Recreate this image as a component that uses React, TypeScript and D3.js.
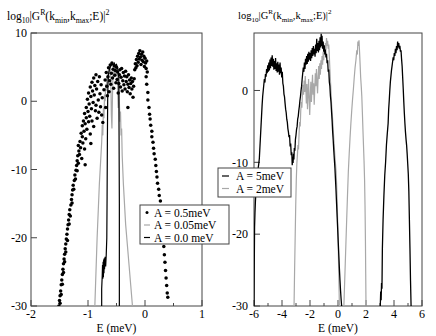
import React from "react";
import * as d3 from "d3";

// ---------- Left panel data ----------
const leftXTicks = [-2, -1, 0, 1];
const leftXMinor = [-1.5, -0.5, 0.5];
const leftYTicks = [10, 0, -10, -20, -30];

// A = 0.5 meV (dots)
const dotsA05: [number, number][] = [
  [-1.51, -30.0], [-1.50, -29.2], [-1.49, -29.6], [-1.49, -28.5], [-1.48, -27.8], [-1.47, -28.3], [-1.47, -26.9],
  [-1.46, -26.2], [-1.45, -26.8], [-1.45, -25.4], [-1.44, -24.6], [-1.43, -25.1], [-1.43, -23.8], [-1.42, -23.1],
  [-1.41, -22.4], [-1.41, -23.5], [-1.40, -21.6], [-1.39, -22.1], [-1.39, -20.9], [-1.38, -20.2], [-1.37, -19.5],
  [-1.36, -20.4], [-1.36, -18.7], [-1.35, -18.1], [-1.34, -17.4], [-1.33, -18.0], [-1.33, -16.6], [-1.32, -15.9],
  [-1.31, -16.8], [-1.30, -15.2], [-1.29, -14.4], [-1.28, -13.7], [-1.28, -14.9], [-1.27, -13.0], [-1.26, -12.3],
  [-1.25, -12.9], [-1.24, -11.6], [-1.23, -10.8], [-1.22, -11.4], [-1.21, -10.1], [-1.20, -9.4], [-1.19, -10.2],
  [-1.19, -8.7], [-1.18, -8.0], [-1.17, -9.1], [-1.16, -7.3],
  [-1.17, -6.5], [-1.15, -7.8], [-1.14, -5.9], [-1.13, -6.8], [-1.12, -4.7], [-1.11, -8.4], [-1.10, -5.2],
  [-1.10, -3.6], [-1.09, -6.1], [-1.08, -2.9], [-1.07, -4.4], [-1.06, -7.0], [-1.06, -1.8], [-1.05, -3.3],
  [-1.04, -5.5], [-1.03, -0.9], [-1.03, -2.4], [-1.02, -4.1], [-1.01, 0.3], [-1.00, -1.5], [-0.99, -3.0],
  [-0.99, 1.2], [-0.98, -0.4], [-0.97, -2.2], [-0.96, 2.1], [-0.96, -4.8], [-0.95, 0.7], [-0.94, -1.1],
  [-0.93, 2.8], [-0.93, -2.9], [-0.92, 1.5], [-0.91, -0.2], [-0.90, 3.4], [-0.90, -3.7], [-0.89, 0.9],
  [-0.88, 2.3], [-0.87, -1.4], [-0.86, 3.9], [-0.86, -0.6], [-0.85, 1.8], [-0.84, -2.5], [-0.83, 2.9],
  [-0.82, 0.2], [-0.81, -1.6], [-0.80, 3.6], [-0.79, 1.1], [-0.78, -0.8], [-0.77, 2.4], [-0.76, -2.0],
  [-0.75, 0.5], [-0.74, -3.1], [-1.05, -9.3], [-0.95, -6.2],
  [-0.72, 1.7], [-0.70, 3.1], [-0.69, -0.9], [-0.68, 4.2], [-0.67, 2.2], [-0.66, 0.8], [-0.65, 3.6],
  [-0.64, 4.9], [-0.63, 1.4], [-0.62, 3.0], [-0.61, 5.3], [-0.60, 2.5], [-0.59, 4.1], [-0.58, 5.6],
  [-0.57, 3.4], [-0.56, 4.7], [-0.55, 1.9], [-0.54, 5.2], [-0.53, 3.8], [-0.52, 4.5], [-0.51, 2.7],
  [-0.50, 5.0], [-0.49, 3.2], [-0.48, 4.3], [-0.47, 1.2], [-0.46, 2.6], [-0.45, 3.9], [-0.44, 4.6],
  [-0.43, 2.1], [-0.42, 3.5], [-0.41, 4.8], [-0.40, 1.5], [-0.39, 3.0], [-0.38, 4.2], [-0.37, 2.4],
  [-0.36, 3.7], [-0.35, 1.8], [-0.34, 4.4], [-0.33, 2.9], [-0.32, 3.6], [-0.31, 1.4], [-0.30, 2.5],
  [-0.30, -0.9], [-0.29, 3.9], [-0.28, 2.0], [-0.27, 3.1], [-0.26, 1.1], [-0.25, 2.6], [-0.24, 3.4],
  [-0.23, 1.8], [-0.22, 2.9], [-0.21, 0.6], [-0.20, 2.2], [-0.19, 3.3],
  [-0.18, 4.6], [-0.17, 5.5], [-0.16, 4.9], [-0.15, 6.1], [-0.14, 5.2], [-0.13, 6.6], [-0.12, 5.7],
  [-0.11, 7.0], [-0.10, 6.2], [-0.09, 7.4], [-0.08, 6.5], [-0.07, 5.4], [-0.06, 6.9], [-0.05, 6.0],
  [-0.04, 7.2], [-0.03, 5.8], [-0.02, 6.6], [-0.01, 5.1], [0.00, 6.3], [0.01, 5.6], [0.02, 4.8],
  [0.03, 5.9], [0.04, 4.3],
  [0.02, 3.6], [0.03, 2.5], [0.05, 1.3], [0.05, 0.2], [0.07, -0.9], [0.08, -1.9], [0.09, -2.6],
  [0.10, -3.5], [0.12, -4.4], [0.12, -5.2], [0.14, -6.0], [0.15, -6.9], [0.16, -7.7], [0.18, -8.5],
  [0.19, -9.4], [0.20, -10.3], [0.21, -11.1], [0.22, -12.0], [0.24, -12.9], [0.25, -13.8], [0.27, -14.6],
  [0.28, -15.5], [0.29, -16.7], [0.30, -17.9], [0.31, -19.0], [0.32, -20.2], [0.33, -21.3], [0.34, -22.5],
  [0.35, -23.6], [0.36, -24.8], [0.37, -25.9], [0.38, -27.0], [0.39, -28.1], [0.40, -28.7],
];

// A = 0.05 meV (gray line)
const lineA005: [number, number][] = [
  [-0.88, -30], [-0.86, -25], [-0.84, -20], [-0.82, -16], [-0.80, -12], [-0.78, -9], [-0.76, -6],
  [-0.75, -3.5], [-0.74, -5], [-0.73, -1], [-0.72, -2.5], [-0.71, 1], [-0.70, 0], [-0.69, 2.5],
  [-0.68, 1.5], [-0.67, 3.5], [-0.66, 2], [-0.65, 4.5], [-0.64, 3], [-0.63, 5], [-0.62, 4],
  [-0.61, 5.5], [-0.60, 3], [-0.59, -2], [-0.58, -4], [-0.57, 1], [-0.56, 4.5], [-0.55, 5.5],
  [-0.54, 3.5], [-0.53, 5], [-0.52, 4], [-0.51, 5.2], [-0.50, 3.8], [-0.49, 4.6], [-0.48, 2],
  [-0.47, -1], [-0.46, 2.5], [-0.45, 0], [-0.44, -3], [-0.43, -1.5], [-0.42, -5], [-0.41, -4],
  [-0.40, -8], [-0.38, -12], [-0.36, -15], [-0.34, -18], [-0.31, -21], [-0.28, -24], [-0.25, -27],
  [-0.22, -30],
];

// A = 0.0 meV (black line)
const lineA00: [number, number][] = [
  [-0.76, -30], [-0.76, -27.5], [-0.75, -25.5], [-0.745, -24], [-0.74, -26], [-0.735, -23.5],
  [-0.73, -25.8], [-0.725, -23.2], [-0.72, -25.2], [-0.715, -23], [-0.71, -24.6], [-0.70, -22.8],
  [-0.69, -24.2], [-0.68, -22.5], [-0.67, -20], [-0.665, -14], [-0.66, -6], [-0.655, 0],
  [-0.65, 2.5], [-0.64, 4], [-0.62, 4.8], [-0.60, 5.2], [-0.58, 5.5], [-0.56, 5.3], [-0.54, 5.6],
  [-0.52, 5.2], [-0.50, 5.4], [-0.48, 4.8], [-0.46, 3.5], [-0.455, -5], [-0.45, -15], [-0.45, -30],
];

// ---------- Right panel data ----------
const rightXTicks = [-6, -4, -2, 0, 2, 4, 6];
const rightXMinor = [-5, -3, -1, 1, 3, 5];
const rightYTicks = [0, -10, -20, -30];

// A = 5 meV (black line), two branches
const lineA5a: [number, number][] = [
  [-6.00, -30], [-5.98, -24], [-5.96, -19], [-5.93, -17], [-5.90, -15.5], [-5.86, -14], [-5.82, -13],
  [-5.78, -12.2], [-5.74, -11.5], [-5.70, -10.8], [-5.66, -10.2], [-5.62, -9.5], [-5.58, -8], [-5.54, -6.5],
  [-5.50, -5], [-5.46, -3.5], [-5.42, -2], [-5.38, -0.8], [-5.34, 0], [-5.30, 0.8], [-5.26, 1.6],
  [-5.22, 1.1], [-5.18, 2.3], [-5.14, 1.9], [-5.10, 3.0], [-5.06, 2.4], [-5.02, 3.5], [-4.98, 2.6],
  [-4.94, 3.9], [-4.90, 2.8], [-4.86, 4.3], [-4.82, 3.1], [-4.78, 4.6], [-4.74, 3.4], [-4.70, 4.9],
  [-4.66, 3.3], [-4.62, 4.4], [-4.58, 2.9], [-4.54, 4.1], [-4.50, 3.0], [-4.46, 4.5], [-4.42, 2.7],
  [-4.38, 3.8], [-4.34, 2.5], [-4.30, 4.0], [-4.26, 2.6], [-4.22, 3.6], [-4.18, 2.2], [-4.14, 3.9],
  [-4.10, 2.4], [-4.06, 3.2], [-4.02, 1.8], [-3.98, 2.6], [-3.94, 1.0], [-3.90, 0.6], [-3.86, -0.5],
  [-3.82, -0.9], [-3.78, -1.8], [-3.74, -2.6], [-3.70, -3.1], [-3.66, -4.0], [-3.62, -4.4], [-3.58, -5.3],
  [-3.54, -5.8], [-3.50, -6.5], [-3.46, -6.2], [-3.42, -7.8], [-3.38, -7.4], [-3.34, -9.0], [-3.30, -8.6],
  [-3.27, -10.4], [-3.24, -9.3], [-3.21, -10.1], [-3.18, -8.8], [-3.15, -9.6], [-3.12, -8.0], [-3.08, -8.4],
  [-3.04, -6.8], [-3.00, -6.2], [-2.96, -5.4], [-2.92, -5.0], [-2.88, -4.0], [-2.84, -3.6], [-2.80, -2.8],
  [-2.76, -2.2], [-2.72, -1.4], [-2.68, -0.8], [-2.64, 0.0], [-2.60, 0.6], [-2.56, 1.6], [-2.52, 2.4],
  [-2.48, 3.2], [-2.44, 2.6], [-2.40, 3.9], [-2.36, 3.0], [-2.32, 4.4], [-2.28, 3.6], [-2.24, 4.8],
  [-2.20, 3.7], [-2.16, 5.1], [-2.12, 4.0], [-2.08, 5.4], [-2.04, 4.3], [-2.00, 5.2], [-1.96, 4.1],
  [-1.92, 5.6], [-1.88, 4.5], [-1.84, 5.9], [-1.80, 4.8], [-1.76, 6.2], [-1.72, 5.0], [-1.68, 5.8],
  [-1.64, 4.7], [-1.60, 6.4], [-1.56, 5.2], [-1.52, 7.2], [-1.48, 5.5], [-1.44, 6.6], [-1.40, 5.3],
  [-1.36, 6.9], [-1.32, 5.6], [-1.28, 7.4], [-1.24, 6.0], [-1.20, 7.9], [-1.17, 6.2], [-1.14, 7.6],
  [-1.10, 5.8], [-1.06, 6.8], [-1.02, 5.4], [-0.98, 6.3], [-0.94, 5.0], [-0.90, 5.7], [-0.86, 4.6],
  [-0.82, 5.1], [-0.78, 3.8], [-0.74, 4.2], [-0.70, 2.6], [-0.66, 2.9], [-0.62, 1.2], [-0.58, 0.6],
  [-0.54, -0.8], [-0.50, -1.6], [-0.46, -3.0], [-0.42, -4.2], [-0.38, -5.8], [-0.34, -7.0], [-0.30, -8.4],
  [-0.26, -9.6], [-0.22, -10.8], [-0.18, -12.4], [-0.14, -14.0], [-0.10, -15.8], [-0.06, -17.6],
  [-0.02, -19.4], [0.02, -21.2], [0.06, -23.0], [0.10, -24.8], [0.14, -26.4], [0.18, -27.8],
  [0.22, -29.0], [0.26, -30],
];
const lineA5b: [number, number][] = [
  [3.02, -30], [3.05, -28], [3.08, -29.2], [3.11, -26.8], [3.14, -27.6], [3.17, -22], [3.22, -18],
  [3.28, -14.6], [3.34, -11.8], [3.40, -10.0], [3.46, -7.6], [3.52, -6.0], [3.58, -4.6], [3.62, -2.6],
  [3.66, -1.4], [3.70, 0.0], [3.74, 1.2], [3.78, 2.0], [3.82, 2.8], [3.86, 3.4], [3.90, 4.0], [3.94, 4.6],
  [3.98, 4.2], [4.02, 5.2], [4.06, 4.8], [4.10, 5.8], [4.14, 5.2], [4.18, 6.2], [4.22, 5.6], [4.26, 6.8],
  [4.30, 6.0], [4.34, 6.6], [4.38, 5.8], [4.42, 6.2], [4.46, 5.4], [4.50, 5.6], [4.54, 4.4], [4.58, 3.4],
  [4.62, 1.8], [4.66, 0.2], [4.70, -1.6], [4.74, -3.2], [4.78, -4.6], [4.82, -5.8], [4.86, -6.8],
  [4.90, -7.6], [4.94, -8.8], [4.98, -10.2], [5.02, -11.6], [5.06, -14], [5.10, -18], [5.14, -22],
  [5.18, -26.5], [5.22, -30],
];

// A = 2 meV (gray line), two branches
const lineA2a: [number, number][] = [
  [-3.14, -30], [-3.10, -25], [-3.06, -20.5], [-3.02, -16], [-2.98, -12.5], [-2.94, -10.2], [-2.90, -9.0],
  [-2.86, -7.6], [-2.82, -8.2], [-2.78, -6.0], [-2.74, -4.4], [-2.70, -5.0], [-2.66, -2.8], [-2.62, -1.6],
  [-2.58, -2.4], [-2.54, -0.4], [-2.50, 0.8], [-2.46, -0.6], [-2.42, 1.4], [-2.38, -0.2], [-2.34, 2.0],
  [-2.30, 0.4], [-2.26, -1.8], [-2.22, 0.9], [-2.18, -2.6], [-2.14, -0.4], [-2.10, 1.6], [-2.06, -1.2],
  [-2.02, -3.4], [-1.98, -0.8], [-1.94, 1.2], [-1.90, -1.6], [-1.86, 0.4], [-1.82, 2.2], [-1.78, -0.6],
  [-1.74, 1.0], [-1.70, -2.0], [-1.66, 0.2], [-1.62, 2.4], [-1.58, 0.6], [-1.54, 3.0], [-1.50, 1.2],
  [-1.46, -0.4], [-1.42, 1.8], [-1.38, 3.4], [-1.34, 1.6], [-1.30, 3.8], [-1.26, 2.2], [-1.22, 4.2],
  [-1.18, 3.0], [-1.14, 4.8], [-1.10, 3.6], [-1.06, 5.4], [-1.02, 4.2], [-0.98, 5.8], [-0.94, 5.0],
  [-0.90, 6.6], [-0.86, 5.6], [-0.82, 7.3], [-0.78, 6.2], [-0.74, 6.9], [-0.70, 5.8], [-0.66, 6.4],
  [-0.62, 4.8], [-0.58, 3.0], [-0.54, 1.4], [-0.50, -0.2], [-0.46, -1.8], [-0.42, -3.0], [-0.38, -4.2],
  [-0.34, -5.6], [-0.30, -6.8], [-0.26, -8.0], [-0.22, -9.2], [-0.18, -10.2], [-0.14, -11.2],
  [-0.10, -13.0], [-0.06, -15.5], [-0.02, -18.5], [0.02, -22], [0.06, -26], [0.10, -30],
];
const lineA2b: [number, number][] = [
  [0.42, -30], [0.47, -27], [0.52, -24], [0.57, -21], [0.62, -18], [0.68, -14.5], [0.74, -11.2],
  [0.80, -8.8], [0.86, -6.6], [0.92, -4.6], [0.98, -2.8], [1.04, -1.2], [1.10, 0.2], [1.16, 1.8],
  [1.22, 3.2], [1.28, 4.2], [1.34, 5.6], [1.38, 5.0], [1.42, 6.8], [1.46, 6.2], [1.50, 7.0],
  [1.54, 5.4], [1.58, 3.6], [1.62, 1.8], [1.66, 0.6], [1.70, -0.8], [1.74, -3.0], [1.78, -5.4],
  [1.82, -7.6], [1.86, -9.8], [1.90, -12.6], [1.93, -16], [1.96, -21], [1.98, -25.5], [2.00, -30],
];

const leftLegend = ["A = 0.5meV", "A = 0.05meV", "A = 0.0 meV"];
const rightLegend = ["A = 5meV", "A = 2meV"];

const FONT = "'Liberation Serif', 'Times New Roman', serif";
const GRAY = "#a8a8a8";
const FRAME = "#444";

function Title({ x, y, size }: { x: number; y: number; size: number }) {
  const s = size * 0.68;
  return (
    <text x={x} y={y} fontSize={size} fontFamily={FONT} fill="#000">
      <tspan>log</tspan>
      <tspan dy={3} fontSize={s}>10</tspan>
      <tspan dy={-3}>|G</tspan>
      <tspan dy={-5} fontSize={s}>R</tspan>
      <tspan dy={5}>(k</tspan>
      <tspan dy={3} fontSize={s}>min</tspan>
      <tspan dy={-3}>,k</tspan>
      <tspan dy={3} fontSize={s}>max</tspan>
      <tspan dy={-3}>;E)|</tspan>
      <tspan dy={-5} fontSize={s}>2</tspan>
    </text>
  );
}

function Frame({
  x, y, xTicks, xMinor, yTicks, yLabelX, id,
}: {
  x: d3.ScaleLinear<number, number>;
  y: d3.ScaleLinear<number, number>;
  xTicks: number[];
  xMinor: number[];
  yTicks: number[];
  yLabelX: number;
  id: string;
}) {
  const [x0, x1] = x.range();
  const [y0, y1] = y.range(); // y0 bottom, y1 top
  return (
    <g>
      <clipPath id={id}>
        <rect x={x0} y={y1} width={x1 - x0} height={y0 - y1} />
      </clipPath>
      <rect x={x0} y={y1} width={x1 - x0} height={y0 - y1} fill="none" stroke={FRAME} strokeWidth={1} />
      {xTicks.map((t) => (
        <g key={"xt" + t}>
          <line x1={x(t)} x2={x(t)} y1={y0} y2={y0 - 6} stroke={FRAME} />
          <text x={x(t)} y={y0 + 11.5} textAnchor="middle" fontSize={12} fontFamily={FONT}>
            {t < 0 ? "-" + Math.abs(t) : String(t)}
          </text>
        </g>
      ))}
      {xMinor.map((t) => (
        <line key={"xm" + t} x1={x(t)} x2={x(t)} y1={y0} y2={y0 - 3} stroke={FRAME} />
      ))}
      {yTicks.map((t) => (
        <g key={"yt" + t}>
          <line x1={x0} x2={x0 + 6} y1={y(t)} y2={y(t)} stroke={FRAME} />
          <text x={yLabelX} y={y(t)} dy="0.35em" textAnchor="end" fontSize={12} fontFamily={FONT}>
            {t < 0 ? "-" + Math.abs(t) : String(t)}
          </text>
        </g>
      ))}
      <text x={(x0 + x1) / 2} y={y0 + 25.5} textAnchor="middle" fontSize={11.5} fontFamily={FONT}>
        E (meV)
      </text>
    </g>
  );
}

export default function App() {
  const xL = d3.scaleLinear().domain([-2, 1]).range([31, 202]);
  const yL = d3.scaleLinear().domain([-30, 10]).range([306, 33]);
  const xR = d3.scaleLinear().domain([-6, 6]).range([254, 422]);
  const yR = d3.scaleLinear().domain([-30, 8]).range([306, 33]);

  const lineL = d3.line<[number, number]>().x((d) => xL(d[0])).y((d) => yL(d[1]));
  const lineR = d3.line<[number, number]>().x((d) => xR(d[0])).y((d) => yR(d[1]));

  return (
    <svg
      width={436}
      height={336}
      style={{ position: "absolute", left: 0, top: 0, background: "#fff" }}
    >
      <rect x={0} y={0} width={436} height={336} fill="#fff" />
      {/* Left panel */}
      <Frame x={xL} y={yL} xTicks={leftXTicks} xMinor={leftXMinor} yTicks={leftYTicks} yLabelX={27} id="clipL" />
      <g clipPath="url(#clipL)">
        <path d={lineL(lineA005) || ""} fill="none" stroke={GRAY} strokeWidth={1.2} />
        <path d={lineL(lineA00) || ""} fill="none" stroke="#000" strokeWidth={1.2} />
        {dotsA05.map((d, i) => (
          <circle key={i} cx={xL(d[0])} cy={yL(d[1])} r={1.75} fill="#000" />
        ))}
      </g>
      <Title x={7} y={20} size={11.5} />

      {/* Right panel */}
      <Frame x={xR} y={yR} xTicks={rightXTicks} xMinor={rightXMinor} yTicks={rightYTicks} yLabelX={248} id="clipR" />
      <g clipPath="url(#clipR)">
        <path d={lineR(lineA2a) || ""} fill="none" stroke={GRAY} strokeWidth={1.2} />
        <path d={lineR(lineA2b) || ""} fill="none" stroke={GRAY} strokeWidth={1.2} />
        <path d={lineR(lineA5a) || ""} fill="none" stroke="#000" strokeWidth={1.3} />
        <path d={lineR(lineA5b) || ""} fill="none" stroke="#000" strokeWidth={1.3} />
      </g>
      <Title x={238} y={19} size={10.5} />

      {/* Left legend */}
      <g>
        <rect x={140} y={205} width={89} height={39} fill="#fff" stroke={FRAME} />
        {leftLegend.map((label, i) => {
          const cy = 212.5 + i * 12.5;
          return (
            <g key={label}>
              {i === 0 && <circle cx={147} cy={cy} r={1.5} fill="#000" />}
              {i === 1 && <line x1={144} x2={150} y1={cy} y2={cy} stroke={GRAY} strokeWidth={1.2} />}
              {i === 2 && <line x1={144} x2={150} y1={cy} y2={cy} stroke="#000" strokeWidth={1.2} />}
              <text x={154} y={cy + 4} fontSize={11.5} fontFamily={FONT}>{label}</text>
            </g>
          );
        })}
      </g>

      {/* Right legend */}
      <g>
        <rect x={218} y={168} width={73} height={29} fill="#fff" stroke={FRAME} />
        {rightLegend.map((label, i) => {
          const cy = 176 + i * 12.5;
          return (
            <g key={label}>
              <line x1={222} x2={229} y1={cy} y2={cy} stroke={i === 0 ? "#000" : GRAY} strokeWidth={1.2} />
              <text x={236} y={cy + 4} fontSize={11.5} fontFamily={FONT}>{label}</text>
            </g>
          );
        })}
      </g>
    </svg>
  );
}
